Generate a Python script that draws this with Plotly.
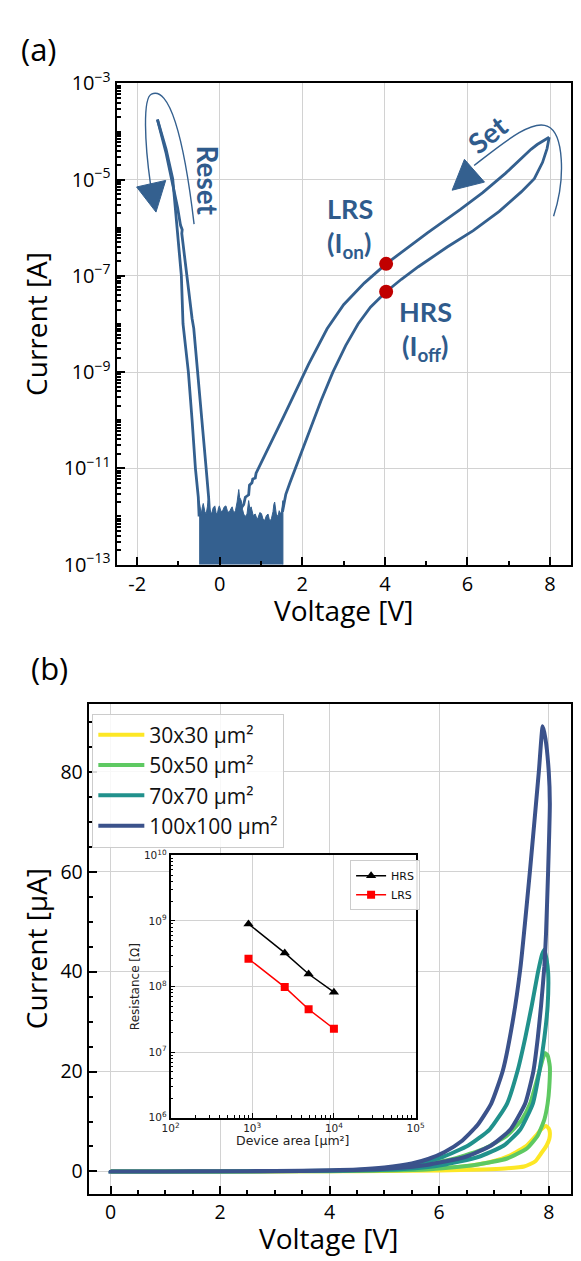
import plotly.graph_objects as go

W, H = 581, 1261
BLUE = "#34608f"
TXT = "#2f5b8c"
GRID = "#d2d2d2"

# ---------------- Panel (a) data : voltage [V] and log10(current [A]) ----------------
set_fwd_v = [1.52, 1.60, 1.70, 1.83, 2.15, 2.45, 2.74, 3.05, 3.35, 3.65, 4.03, 4.40, 4.81,
             5.51, 6.14, 6.77, 7.31, 7.62, 7.82, 7.93, 7.98]
set_fwd_log = [-11.9, -11.54, -11.3, -11.0, -10.25, -9.6, -9.0, -8.45, -8.0, -7.65, -7.33, -7.07,
               -6.81, -6.40, -6.06, -5.66, -5.25, -4.98, -4.64, -4.35, -4.12]
set_rev_v = [7.98, 7.85, 7.69, 7.54, 6.92, 6.37, 5.83, 5.04, 4.50, 4.03, 3.50, 3.00, 2.60, 2.15,
             1.55, 0.95, 0.88, 0.86, 0.80, 0.78, 0.72, 0.70, 0.62, 0.58, 0.50]
set_rev_log = [-4.12, -4.19, -4.27, -4.37, -4.87, -5.27, -5.62, -6.10, -6.45, -6.75, -7.15, -7.60,
               -8.10, -8.84, -9.92, -11.0, -11.1, -11.2, -11.22, -11.3, -11.35, -11.55, -11.6,
               -11.75, -11.85]
reset_lrs_v = [-0.25, -0.27, -0.33, -0.43, -0.53, -0.63, -0.67, -0.79, -0.90, -0.92, -0.91,
               -0.95, -1.02, -1.18, -1.30, -1.42, -1.51]
reset_lrs_log = [-11.9, -11.6, -11.0, -10.0, -9.0, -8.09, -7.89, -7.01, -6.2, -6.12, -6.04,
                 -5.95, -5.59, -4.91, -4.45, -4.05, -3.75]
reset_hrs_v = [-1.51, -1.40, -1.30, -1.14, -1.02, -0.93, -0.89, -0.76, -0.67, -0.59, -0.52, -0.50]
reset_hrs_log = [-3.75, -4.05, -4.37, -4.98, -6.06, -7.0, -8.0, -9.0, -10.0, -11.0, -11.6, -12.0]
noise_v = [-0.50, -0.47, -0.45, -0.42, -0.40, -0.36, -0.33, -0.30, -0.28, -0.24, -0.20, -0.16,
           -0.12, -0.09, -0.06, -0.03, -0.01, 0.03, 0.07, 0.11, 0.15, 0.19, 0.23, 0.27, 0.30,
           0.34, 0.38, 0.42, 0.44, 0.46, 0.48, 0.52, 0.55, 0.58, 0.62, 0.66, 0.70, 0.73, 0.76,
           0.81, 0.86, 0.90, 0.93, 0.97, 1.01, 1.05, 1.09, 1.13, 1.17, 1.21, 1.25, 1.29, 1.31,
           1.33, 1.37, 1.41, 1.44, 1.47, 1.50, 1.53, 1.53, -0.50]
noise_log = [-11.67, -11.85, -11.95, -11.8, -11.73, -11.9, -11.95, -11.8, -11.67, -11.86,
             -11.95, -11.82, -11.78, -11.92, -11.95, -11.82, -11.78, -11.9, -11.88, -11.8,
             -11.78, -11.9, -11.91, -11.84, -11.8, -11.93, -11.88, -11.7, -11.5, -11.44,
             -11.6, -11.67, -11.85, -11.95, -12.0, -11.95, -11.67, -11.85, -11.8, -11.98,
             -11.95, -12.05, -12.02, -11.92, -11.94, -12.06, -12.08, -11.98, -11.95, -12.1,
             -12.05, -11.9, -11.75, -11.7, -11.95, -12.0, -11.88, -11.95, -11.88, -11.67,
             -14.0, -14.0]
dot_v = [4.03, 4.03]
dot_log = [-6.75, -7.33]

# ---------------- Panel (b) data : voltage [V] and current [uA] ----------------
size_labels = ["30x30 μm²", "50x50 μm²", "70x70 μm²", "100x100 μm²"]
size_colors = ["#fde725", "#5ec962", "#21918c", "#3b528b"]
loop_v = [
    [0, 1, 2, 3, 4, 5, 5.47, 6.0, 6.35, 6.7, 6.95, 7.3, 7.6, 7.77, 7.86, 7.95,
     8.0, 8.02, 8.01, 7.96, 7.86, 7.75, 7.55, 7.2, 6.8, 6.0, 5.0, 4, 3, 2, 0],
    [0, 1, 2, 3, 4, 5, 5.65, 6.29, 6.83, 7.24, 7.51, 7.66, 7.83, 7.93,
     7.98, 8.02, 8.01, 7.98, 7.92, 7.8, 7.6, 7.24, 6.65, 5.77, 5.0, 4, 3, 2, 0],
    [0, 1, 2, 3, 4, 5, 5.47, 6.06, 6.53, 6.92, 7.24, 7.43, 7.57, 7.69, 7.8, 7.88, 7.92,
     7.96, 7.99, 7.98, 7.92, 7.83, 7.71, 7.48, 7.18, 6.71, 6.06, 5.35, 4.5, 3.5, 2, 0],
    [0, 1, 2, 3, 4, 4.5, 5.0, 5.5, 5.8, 6.1, 6.4, 6.7, 6.95, 7.16, 7.34, 7.48, 7.66, 7.82, 7.89,
     7.94, 8.0, 8.02, 7.99, 7.95, 7.92, 7.86, 7.8, 7.72, 7.57, 7.3, 6.95, 6.47, 5.77, 5.17,
     4.5, 3.5, 2, 0],
]
loop_i = [
    [0, 0.0, 0.01, 0.02, 0.05, 0.2, 0.4, 0.65, 0.9, 1.4, 1.95, 3.25, 5.2, 7.2, 8.4, 9.1,
     8.6, 7.8, 6.5, 5.2, 3.6, 2.0, 1.0, 0.6, 0.4, 0.2, 0.1, 0.04, 0.02, 0.01, 0],
    [0, 0.0, 0.01, 0.03, 0.08, 0.45, 1.3, 2.6, 4.6, 7.2, 10.4, 13.6, 20.1, 23.7,
     23.2, 21.0, 16.9, 13.6, 10.4, 7.2, 4.6, 2.6, 1.3, 0.4, 0.2, 0.07, 0.03, 0.01, 0],
    [0, 0.0, 0.02, 0.05, 0.15, 0.6, 1.3, 2.9, 5.2, 8.4, 13.6, 20.1, 26.7, 33.2, 39.7, 43.5, 44.4,
     42.5, 39.7, 33.2, 26.7, 20.1, 13.6, 8.4, 5.2, 2.9, 1.3, 0.5, 0.2, 0.08, 0.02, 0],
    [0, 0.01, 0.04, 0.1, 0.25, 0.4, 0.8, 1.6, 2.5, 3.9, 6.0, 9.3, 13.6, 20.1, 29.9, 40.5, 60.5,
     80.1, 89.1, 86.6, 80.1, 73.6, 60.5, 47.5, 41.0, 33.2, 26.7, 20.1, 13.6, 8.4, 5.2, 2.9,
     1.3, 0.65, 0.3, 0.12, 0.04, 0],
]

# ---------------- Inset data ----------------
area_um2 = [900, 2500, 4900, 10000]
r_hrs = [9.0e8, 3.25e8, 1.55e8, 8.2e7]
r_lrs = [2.65e8, 9.8e7, 4.5e7, 2.27e7]

# tick labels
a_x_ticks = [-2, 0, 2, 4, 6, 8]
a_x_text = ["-2", "0", "2", "4", "6", "8"]
a_y_exp = [-13, -11, -9, -7, -5, -3]
b_x_ticks = [0, 2, 4, 6, 8]
b_y_ticks = [0, 20, 40, 60, 80]
in_x_exp = [2, 3, 4, 5]
in_y_exp = [6, 7, 8, 9, 10]


def px(x):
    return x / W


def py(y):
    return 1 - y / H


def tolin(logs):
    return [10 ** v for v in logs]


fig = go.Figure()

# ---- panel (a) traces
la = dict(color=BLUE, width=2.8)
fig.add_trace(go.Scatter(x=noise_v, y=tolin(noise_log), mode="lines", fill="toself",
                         fillcolor=BLUE, line=dict(color=BLUE, width=1),
                         xaxis="x", yaxis="y", showlegend=False, hoverinfo="skip"))
for vv, ll in [(set_fwd_v, set_fwd_log), (set_rev_v, set_rev_log),
               (reset_lrs_v, reset_lrs_log), (reset_hrs_v, reset_hrs_log)]:
    fig.add_trace(go.Scatter(x=vv, y=tolin(ll), mode="lines", line=la,
                             xaxis="x", yaxis="y", showlegend=False))
fig.add_trace(go.Scatter(x=dot_v, y=tolin(dot_log), mode="markers",
                         marker=dict(size=14, color="#c00000"),
                         xaxis="x", yaxis="y", showlegend=False))

# ---- panel (b) traces
for lab, col, vv, ii in zip(size_labels, size_colors, loop_v, loop_i):
    fig.add_trace(go.Scatter(x=vv, y=ii, mode="lines", name=lab,
                             line=dict(color=col, width=4, shape="spline", smoothing=0.5),
                             xaxis="x2", yaxis="y2", legend="legend"))

# ---- inset traces
fig.add_trace(go.Scatter(x=area_um2, y=r_hrs, mode="lines+markers", name="HRS",
                         line=dict(color="black", width=1.5),
                         marker=dict(symbol="triangle-up", size=9, color="black"),
                         xaxis="x3", yaxis="y3", legend="legend2"))
fig.add_trace(go.Scatter(x=area_um2, y=r_lrs, mode="lines+markers", name="LRS",
                         line=dict(color="red", width=1.5),
                         marker=dict(symbol="square", size=8, color="red"),
                         xaxis="x3", yaxis="y3", legend="legend2"))

tickfont = dict(family="Open Sans", size=20, color="black")
tickfont_b = dict(family="Open Sans", size=19.5, color="black")
small = dict(family="DejaVu Sans", size=10.5, color="#222")

frame = dict(showline=True, linecolor="black", linewidth=2, mirror=True, zeroline=False,
             showgrid=True, gridcolor=GRID, gridwidth=1.3, ticks="inside", ticklen=8,
             tickwidth=2, tickcolor="black")

log_minor_a = [m * 10.0 ** e for e in range(-13, -3) for m in range(1, 10)
               if not (m == 1 and e % 2 != 0)]
log_minor_in_x = [m * 10.0 ** e for e in range(2, 5) for m in range(2, 10)]
log_minor_in_y = [m * 10.0 ** e for e in range(6, 10) for m in range(2, 10)]

fig.update_layout(
    width=W, height=H, autosize=False,
    margin=dict(l=0, r=0, t=0, b=0, pad=0),
    paper_bgcolor="white", plot_bgcolor="white",
    xaxis=dict(frame, domain=[px(111), px(579.6)], range=[-2.5, 8.5], anchor="y",
               tickmode="array", tickvals=a_x_ticks, ticktext=a_x_text, tickfont=tickfont,
               minor=dict(tickvals=[-1, 1, 3, 5, 7], ticks="inside", ticklen=4,
                          tickwidth=1.5, tickcolor="black", showgrid=False)),
    yaxis=dict(frame, type="log", domain=[py(561.5), py(69)], range=[-13, -3], anchor="x",
               tickmode="array", tickvals=[10.0 ** e for e in a_y_exp],
               ticktext=["10<sup>−%d</sup>" % (-e) for e in a_y_exp], tickfont=tickfont,
               minor=dict(tickvals=log_minor_a, ticks="inside", ticklen=4, tickwidth=1.5,
                          tickcolor="black", showgrid=False)),
    xaxis2=dict(frame, domain=[px(82.2), px(579.6)], range=[-0.4, 8.4], anchor="y2",
                tickmode="array", tickvals=b_x_ticks, tickfont=tickfont_b,
                minor=dict(tickvals=[k * 0.5 for k in range(0, 17)], ticks="inside",
                           ticklen=4, tickwidth=1.5, tickcolor="black", showgrid=False)),
    yaxis2=dict(frame, domain=[py(1205.7), py(704)], range=[-4.5, 93.6], anchor="x2",
                tickmode="array", tickvals=b_y_ticks, tickfont=tickfont_b,
                minor=dict(tickvals=[k * 5 for k in range(0, 19)], ticks="inside",
                           ticklen=4, tickwidth=1.5, tickcolor="black", showgrid=False)),
    xaxis3=dict(frame, type="log", domain=[px(166.7), px(419.6)], range=[2, 5], anchor="y3",
                linewidth=1.5, ticklen=5, tickwidth=1.2, gridwidth=1,
                tickmode="array", tickvals=[10.0 ** e for e in in_x_exp],
                ticktext=["10<sup>%d</sup>" % e for e in in_x_exp], tickfont=small,
                minor=dict(tickvals=log_minor_in_x, ticks="inside", ticklen=3,
                           tickwidth=1, tickcolor="black", showgrid=False)),
    yaxis3=dict(frame, type="log", domain=[py(1127.7), py(859)], range=[6, 10], anchor="x3",
                linewidth=1.5, ticklen=5, tickwidth=1.2, gridwidth=1,
                tickmode="array", tickvals=[10.0 ** e for e in in_y_exp],
                ticktext=["10<sup>%d</sup>" % e for e in in_y_exp], tickfont=small,
                minor=dict(tickvals=log_minor_in_y, ticks="inside", ticklen=3,
                           tickwidth=1, tickcolor="black", showgrid=False)),
    legend=dict(x=px(86), y=py(714), xanchor="left", yanchor="top",
                font=dict(family="Open Sans", size=21, color="#111"),
                bgcolor="rgba(255,255,255,0.85)", bordercolor="#cccccc", borderwidth=1,
                tracegroupgap=0, itemwidth=46),
    legend2=dict(x=px(352), y=py(864), xanchor="left", yanchor="top",
                 font=dict(family="DejaVu Sans", size=11, color="#111"),
                 bgcolor="rgba(255,255,255,0.9)", bordercolor="#cccccc", borderwidth=1,
                 tracegroupgap=0),
)

ann = []


def text(x, y, s, size, family="Open Sans", color="black", angle=0, bold=False):
    if bold:
        s = "<b>%s</b>" % s
    ann.append(dict(x=px(x), y=py(y), xref="paper", yref="paper", text=s, showarrow=False,
                    xanchor="center", yanchor="middle", textangle=angle,
                    font=dict(family=family, size=size, color=color)))


text(31, 34, "(a)", 31)
text(42, 667, "(b)", 31)
text(28, 315, "Current [A]", 28, angle=-90)
text(345, 608, "Voltage [V]", 28)
text(28, 955, "Current [μA]", 28, angle=-90)
text(330, 1251, "Voltage [V]", 28)
text(293, 1151, "Device area [μm²]", 12.5, family="DejaVu Sans", color="#222")
text(130, 993, "Resistance [Ω]", 12, family="DejaVu Sans", color="#222", angle=-90)
text(351.5, 197, "LRS", 27, family="Lato", color=TXT, bold=True)
text(351, 234, "(I<sub>on</sub>)", 27, family="Lato", color=TXT, bold=True)
text(429.6, 302, "HRS", 27, family="Lato", color=TXT, bold=True)
text(429.6, 339, "(I<sub>off</sub>)", 27, family="Lato", color=TXT, bold=True)
text(205, 168, "Reset", 28, family="Lato", color=TXT, angle=90, bold=True)
text(494, 121, "Set", 28, family="Lato", color=TXT, angle=-39, bold=True)
fig.update_layout(annotations=ann)


def path(cmds):
    out = []
    for c, pts in cmds:
        out.append(c + " " + " ".join("%.5f,%.5f" % (px(a), py(b)) for a, b in pts))
    return " ".join(out)


shapes = [
    dict(type="path", xref="paper", yref="paper",
         path=path([("M", [(191, 213)]), ("C", [(180, 120), (165, 72), (147, 80)]),
                    ("C", [(138, 84), (140, 130), (146, 172)])]),
         line=dict(color=BLUE, width=1.4)),
    dict(type="path", xref="paper", yref="paper",
         path=path([("M", [(131.7, 175)]), ("L", [(161.7, 168.3)]), ("L", [(151.7, 200.7)])]) + " Z",
         fillcolor=BLUE, line=dict(color=BLUE, width=1)),
    dict(type="path", xref="paper", yref="paper",
         path=path([("M", [(480, 153)]), ("C", [(510, 130), (540, 105), (556, 113)]),
                    ("C", [(572, 120), (575, 165), (562, 205)])]),
         line=dict(color=BLUE, width=1.4)),
    dict(type="path", xref="paper", yref="paper",
         path=path([("M", [(457.3, 178.3)]), ("L", [(470, 146.7)]), ("L", [(490.7, 170)])]) + " Z",
         fillcolor=BLUE, line=dict(color=BLUE, width=1)),
]
fig.update_layout(shapes=shapes)

fig.write_html("out.html", config={"displayModeBar": False},
               post_script="document.body.style.margin='0';document.body.style.overflow='hidden';")
